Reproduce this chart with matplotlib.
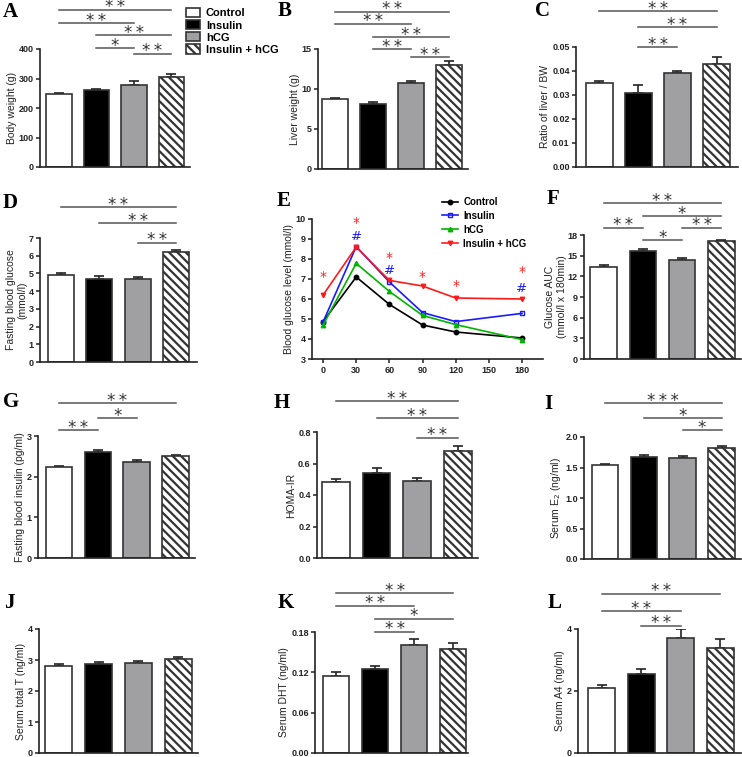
import matplotlib
matplotlib.use('Agg')
import matplotlib.pyplot as plt
import matplotlib.transforms as mtransforms
from matplotlib.patches import Patch
import numpy as np

plt.rcParams['font.family'] = ['Liberation Sans', 'DejaVu Sans']
plt.rcParams['hatch.linewidth'] = 1.6
plt.rcParams['hatch.color'] = 'black'

W, H = 742, 757

# ---- data ----
groups = ['Control', 'Insulin', 'hCG', 'Insulin + hCG']

body_weight = [248, 262, 277, 305]
body_weight_err = [3, 4, 16, 10]
liver_weight = [8.75, 8.15, 10.8, 13.05]
liver_weight_err = [0.15, 0.2, 0.25, 0.5]
liver_ratio = [0.035, 0.031, 0.039, 0.043]
liver_ratio_err = [0.001, 0.003, 0.001, 0.003]
fbg = [4.9, 4.68, 4.66, 6.2]
fbg_err = [0.15, 0.15, 0.12, 0.15]
auc = [13.4, 15.7, 14.3, 17.1]
auc_err = [0.3, 0.3, 0.4, 0.2]
fins = [2.23, 2.6, 2.37, 2.5]
fins_err = [0.03, 0.06, 0.04, 0.04]
homa = [0.48, 0.54, 0.49, 0.68]
homa_err = [0.02, 0.03, 0.02, 0.03]
e2 = [1.54, 1.67, 1.66, 1.82]
e2_err = [0.02, 0.04, 0.03, 0.04]
total_t = [2.8, 2.87, 2.9, 3.03]
total_t_err = [0.08, 0.08, 0.07, 0.08]
dht = [0.115, 0.1245, 0.161, 0.154]
dht_err = [0.005, 0.005, 0.009, 0.009]
a4 = [2.09, 2.54, 3.7, 3.38]
a4_err = [0.1, 0.17, 0.29, 0.3]

# OGTT curves (panel E)
ogtt_time = [0, 30, 60, 90, 120, 180]
ogtt_control = [4.87, 7.1, 5.73, 4.7, 4.35, 4.05]
ogtt_insulin = [4.85, 8.62, 6.85, 5.32, 4.87, 5.28]
ogtt_hcg = [4.7, 7.78, 6.38, 5.18, 4.72, 3.97]
ogtt_combo = [6.2, 8.6, 6.93, 6.65, 6.05, 6.0]
star_time = [0, 30, 60, 90, 120, 180]
star_y = [7.1, 9.8, 8.05, 7.1, 6.65, 7.35]
hash_time = [30, 60, 180]
hash_y = [9.1, 7.4, 6.5]

# significance brackets: (group i, group j, label, height in px from top)
sig_A = [(0, 3, '**', 10), (0, 2, '**', 23), (1, 3, '**', 35), (1, 2, '*', 48), (2, 3, '**', 54)]
sig_B = [(0, 3, '**', 12), (0, 2, '**', 24), (1, 3, '**', 37), (1, 2, '**', 49), (2, 3, '**', 57)]
sig_C = [(0, 3, '**', 11), (1, 3, '**', 27), (1, 2, '**', 47)]
sig_D = [(0, 3, '**', 207), (1, 3, '**', 223), (2, 3, '**', 243)]
sig_F = [(0, 3, '**', 203), (1, 3, '*', 216), (0, 1, '**', 228), (2, 3, '**', 228), (1, 2, '*', 240)]
sig_G = [(0, 3, '**', 403), (1, 2, '*', 418), (0, 1, '**', 430)]
sig_H = [(0, 3, '**', 401), (1, 3, '**', 418), (2, 3, '**', 438)]
sig_I = [(0, 3, '***', 403), (1, 3, '*', 418), (2, 3, '*', 430)]
sig_K = [(0, 3, '**', 593), (0, 2, '**', 606), (1, 3, '*', 619), (1, 2, '**', 632)]
sig_L = [(0, 3, '**', 594), (0, 2, '**', 611), (1, 2, '**', 626)]

bar_colors = ['white', 'black', '#a0a0a3', 'white']
bar_hatch = [None, None, None, '\\\\\\\\']

fig = plt.figure(figsize=(W / 100, H / 100), dpi=100)


def px_axes(left, top, right, bottom):
    ax = fig.add_axes([left / W, 1 - bottom / H, (right - left) / W, (bottom - top) / H])
    ax.patch.set_visible(False)
    return ax


def style(ax):
    for s in ['top', 'right']:
        ax.spines[s].set_visible(False)
    for s in ['left', 'bottom']:
        ax.spines[s].set_linewidth(1.2)
        ax.spines[s].set_color('#222222')
    ax.tick_params(axis='y', direction='out', length=3, width=1.1, pad=1.5,
                   labelsize=6.5, colors='#222222')
    for lab in ax.get_yticklabels():
        lab.set_fontweight('bold')


def bar_panel(rect, xlim, vals, errs, ylim, yticks, fmt, ylabel, sigs, pad=1.5):
    ax = px_axes(*rect)
    x = np.arange(4)
    ax.errorbar(x, vals, yerr=[np.zeros(4), errs], fmt='none', ecolor='#222222',
                elinewidth=1.2, capsize=3.5, capthick=1.2, zorder=1)
    for i in range(4):
        ax.bar(x[i], vals[i], width=0.68, color=bar_colors[i], edgecolor='#333333',
               linewidth=1.2, hatch=bar_hatch[i], zorder=2)
    ax.set_xlim(*xlim)
    ax.set_ylim(*ylim)
    ax.set_yticks(yticks)
    ax.set_yticklabels([fmt.format(t) for t in yticks])
    ax.set_xticks([])
    ax.set_ylabel(ylabel, fontsize=7.5, labelpad=pad, color='#222222')
    style(ax)
    trans = mtransforms.blended_transform_factory(ax.transData, fig.transFigure)
    for i, j, lab, ypx in sigs:
        yl = 1 - ypx / H
        ax.plot([x[i], x[j]], [yl, yl], transform=trans, color='#555555', lw=1.1,
                clip_on=False)
        ax.text((x[i] + x[j]) / 2, 1 - (ypx + 2.5) / H, '\u2009'.join(lab),
                transform=trans, ha='center', va='baseline', fontsize=12,
                color='#333333', family='DejaVu Sans', clip_on=False)
    return ax


bar_panel((40, 49, 190, 167), (-0.5, 3.5), body_weight, body_weight_err, (0, 400),
          [0, 100, 200, 300, 400], '{:.0f}', 'Body weight (g)', sig_A)
bar_panel((318, 49, 468, 169), (-0.45, 3.5), liver_weight, liver_weight_err, (0, 15),
          [0, 5, 10, 15], '{:.0f}', 'Liver weight (g)', sig_B)
bar_panel((576, 47, 738, 167), (-0.6, 3.55), liver_ratio, liver_ratio_err, (0, 0.05),
          [0, 0.01, 0.02, 0.03, 0.04, 0.05], '{:.2f}', 'Ratio of liver / BW', sig_C)
bar_panel((40, 238, 197, 362), (-0.55, 3.55), fbg, fbg_err, (0, 7),
          list(range(8)), '{:.0f}', 'Fasting blood glucose\n(mmol/l)', sig_D, pad=1)
bar_panel((584, 235, 741, 359), (-0.5, 3.5), auc, auc_err, (0, 18),
          [0, 3, 6, 9, 12, 15, 18], '{:.0f}', 'Glucose AUC\n(mmol/l x 180min)', sig_F, pad=0.5)
bar_panel((38, 436, 195, 558), (-0.54, 3.5), fins, fins_err, (0, 3),
          [0, 1, 2, 3], '{:.0f}', 'Fasting blood insulin (pg/ml)', sig_G)
bar_panel((317, 432, 478, 558), (-0.47, 3.5), homa, homa_err, (0, 0.8),
          [0, 0.2, 0.4, 0.6, 0.8], '{:.1f}', 'HOMA-IR', sig_H)
bar_panel((584, 437, 741, 559), (-0.54, 3.5), e2, e2_err, (0, 2.0),
          [0, 0.5, 1.0, 1.5, 2.0], '{:.1f}', 'Serum E$_2$ (ng/ml)', sig_I)
bar_panel((39, 629, 198, 753), (-0.5, 3.5), total_t, total_t_err, (0, 4),
          [0, 1, 2, 3, 4], '{:.0f}', 'Serum total T (ng/ml)', [])
bar_panel((315, 632, 468, 753), (-0.54, 3.38), dht, dht_err, (0, 0.18),
          [0, 0.06, 0.12, 0.18], '{:.2f}', 'Serum DHT (ng/ml)', sig_K)
bar_panel((578, 629, 741, 753), (-0.6, 3.52), a4, a4_err, (0, 4),
          [0, 2, 4], '{:.0f}', 'Serum A4 (ng/ml)', sig_L)

# ---- panel E: OGTT curves ----
axE = px_axes(312, 219, 543, 359)
line_specs = [
    (ogtt_control, 'black', 'o', 'black'),
    (ogtt_insulin, '#1a1aff', 's', 'none'),
    (ogtt_hcg, '#00b400', '^', '#00b400'),
    (ogtt_combo, '#ff1a1a', 'v', '#ff1a1a'),
]
handles_E = []
for series, col, mk, mfc in line_specs:
    h, = axE.plot(ogtt_time, series, color=col, marker=mk, markersize=3.2,
                  markerfacecolor=mfc, markeredgecolor=col, markeredgewidth=1.0, lw=1.2)
    handles_E.append(h)
for t, y in zip(star_time, star_y):
    axE.text(t, y, '*', color='#ff2020', fontsize=10, ha='center', va='center',
             family='DejaVu Sans')
for t, y in zip(hash_time, hash_y):
    axE.text(t, y, '#', color='#1a1aff', fontsize=9.5, ha='center', va='center',
             family='DejaVu Sans')
axE.set_xlim(-10, 199)
axE.set_ylim(3, 10)
axE.set_yticks(range(3, 11))
axE.set_xticks([0, 30, 60, 90, 120, 150, 180])
axE.set_ylabel('Blood glucose level (mmol/l)', fontsize=7.5, labelpad=1.5, color='#222222')
style(axE)
axE.tick_params(axis='x', direction='out', length=3, width=1.1, pad=2,
                labelsize=6.5, colors='#222222')
for lab in axE.get_xticklabels():
    lab.set_fontweight('bold')
axE.legend(handles_E, groups, loc='upper left', bbox_to_anchor=(442 / W, 1 - 197 / H),
           bbox_transform=fig.transFigure, frameon=False,
           prop={'weight': 'bold', 'size': 7}, handlelength=1.6, labelspacing=0.4,
           handletextpad=0.6, borderaxespad=0, borderpad=0)

# ---- group legend (top) ----
handles = [Patch(facecolor=bar_colors[i], edgecolor='#333333', hatch=bar_hatch[i],
                 linewidth=1.2) for i in range(4)]
fig.legend(handles, groups, loc='upper left', bbox_to_anchor=(186 / W, 1 - 8 / H),
           frameon=False, prop={'weight': 'bold', 'size': 8}, handlelength=1.3,
           handleheight=0.9, labelspacing=0.15, handletextpad=0.5, borderaxespad=0,
           borderpad=0)

# ---- panel letters ----
letters = [('A', 3, 12), ('B', 278, 11), ('C', 535, 11), ('D', 3, 203), ('E', 277, 201),
           ('F', 547, 199), ('G', 3, 402), ('H', 274, 403), ('I', 544, 404),
           ('J', 4, 603), ('K', 278, 603), ('L', 548, 603)]
for lab, lx, ly in letters:
    fig.text(lx / W, 1 - ly / H, lab, ha='left', va='center', fontsize=15,
             fontweight='bold', family='Liberation Serif')

fig.savefig('out.png', dpi=100)
